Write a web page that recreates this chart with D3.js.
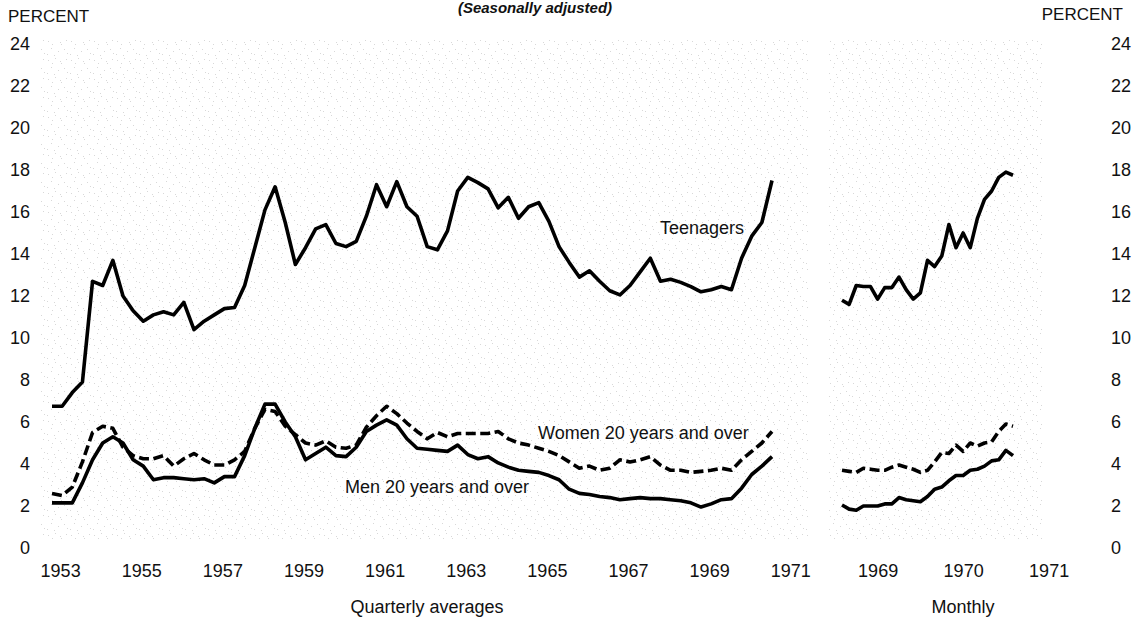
<!DOCTYPE html>
<html>
<head>
<meta charset="utf-8">
<script src="https://cdn.jsdelivr.net/npm/d3@7"></script>
<style>
  html, body { margin: 0; padding: 0; background: #fff; }
  svg { display: block; }
  text { font-family: "Liberation Sans", Arial, sans-serif; fill: #111; }
</style>
</head>
<body>
<svg id="chart" width="1141" height="621"></svg>
<script>
// ---------- DATA ----------
// Quarterly averages, 1953 Q1 .. 1970 Q4 (percent, seasonally adjusted)
const quarterStartYear = 1953;
const teenQuarterly = [
  6.75, 6.75, 7.4, 7.9, 12.7, 12.5, 13.7, 12.0,
  11.3, 10.8, 11.1, 11.25, 11.1, 11.7, 10.4, 10.8,
  11.1, 11.4, 11.45, 12.5, 14.3, 16.1, 17.2, 15.5,
  13.5, 14.3, 15.2, 15.4, 14.5, 14.35, 14.6, 15.8,
  17.3, 16.25, 17.45, 16.25, 15.8, 14.35, 14.2, 15.1,
  17.0, 17.65, 17.4, 17.1, 16.2, 16.7, 15.7, 16.25,
  16.45, 15.55, 14.35, 13.6, 12.9, 13.2, 12.7, 12.25,
  12.05, 12.5, 13.15, 13.8, 12.7, 12.8, 12.65, 12.45,
  12.2, 12.3, 12.45, 12.3, 13.8, 14.85, 15.5, 17.5
];
const womenQuarterly = [
  2.6, 2.5, 2.9, 4.1, 5.5, 5.8, 5.7, 4.8,
  4.4, 4.25, 4.25, 4.4, 3.9, 4.25, 4.5, 4.2,
  3.95, 3.95, 4.2, 4.6, 5.7, 6.6, 6.5, 5.8,
  5.4, 5.0, 4.9, 5.1, 4.8, 4.75, 4.9, 5.75,
  6.3, 6.75, 6.4, 5.95, 5.55, 5.2, 5.5, 5.3,
  5.45, 5.45, 5.45, 5.45, 5.55, 5.2, 5.0, 4.9,
  4.75, 4.6, 4.4, 4.1, 3.8, 3.9, 3.7, 3.8,
  4.2, 4.1, 4.2, 4.35, 3.95, 3.7, 3.7, 3.6,
  3.65, 3.7, 3.8, 3.7, 4.2, 4.6, 5.0, 5.55
];
const menQuarterly = [
  2.15, 2.15, 2.15, 3.1, 4.2, 5.0, 5.3, 5.0,
  4.2, 3.9, 3.25, 3.35, 3.35, 3.3, 3.25, 3.3,
  3.1, 3.4, 3.4, 4.4, 5.7, 6.85, 6.85, 6.0,
  5.3, 4.2, 4.5, 4.8, 4.4, 4.35, 4.8, 5.55,
  5.85, 6.1, 5.85, 5.2, 4.75, 4.7, 4.65, 4.6,
  4.9, 4.45, 4.25, 4.35, 4.05, 3.85, 3.7, 3.65,
  3.6, 3.45, 3.25, 2.8, 2.6, 2.55, 2.45, 2.4,
  2.3, 2.35, 2.4, 2.35, 2.35, 2.3, 2.25, 2.15,
  1.95, 2.1, 2.3, 2.35, 2.85, 3.5, 3.9, 4.35
];
// Monthly, Jan 1969 .. Jan 1971
const monthStartYear = 1969;
const teenMonthly = [
  11.8, 11.6, 12.5, 12.45, 12.45, 11.85, 12.4, 12.4, 12.9, 12.3,
  11.85, 12.15, 13.7, 13.4, 13.9, 15.4, 14.3, 15.0, 14.3, 15.7,
  16.6, 17.0, 17.65, 17.9, 17.75
];
const womenMonthly = [
  3.7, 3.65, 3.6, 3.8, 3.75, 3.7, 3.7, 3.85, 3.95, 3.85,
  3.75, 3.6, 3.7, 4.1, 4.55, 4.5, 4.9, 4.6, 5.0, 4.85,
  5.0, 5.05, 5.55, 5.9, 5.8
];
const menMonthly = [
  2.05, 1.85, 1.8, 2.0, 2.0, 2.0, 2.1, 2.1, 2.4, 2.3,
  2.25, 2.2, 2.45, 2.8, 2.9, 3.2, 3.45, 3.45, 3.7, 3.75,
  3.9, 4.15, 4.2, 4.65, 4.4
];
const yTicks = [0, 2, 4, 6, 8, 10, 12, 14, 16, 18, 20, 22, 24];
const leftYearTicks = [1953, 1955, 1957, 1959, 1961, 1963, 1965, 1967, 1969, 1971];
const rightYearTicks = [1969, 1970, 1971];
const title = "(Seasonally adjusted)";
const axisTitle = "PERCENT";
const seriesLabels = { teen: "Teenagers", women: "Women 20 years and over", men: "Men 20 years and over" };
const panelLabels = { left: "Quarterly averages", right: "Monthly" };

// ---------- SCALES ----------
const svg = d3.select("#chart");
const y = d3.scaleLinear().domain([0, 24]).range([548, 44]);
// quarters plotted at end of quarter, months at end of month
const qTime = i => quarterStartYear + (i + 1) / 4;
const mTime = i => monthStartYear + (i + 1) / 12;
const xL = d3.scaleLinear().domain([qTime(0), qTime(71)]).range([52, 772]);
const xR = d3.scaleLinear().domain([mTime(0), mTime(24)]).range([842, 1013]);

// ---------- BACKGROUND STIPPLE ----------
const defs = svg.append("defs");
const pat = defs.append("pattern").attr("id", "stip").attr("patternUnits", "userSpaceOnUse")
  .attr("width", 23).attr("height", 19);
const dots = [[2,3],[9,1],[15,6],[20,2],[5,10],[12,13],[18,11],[1,16],[8,17],[21,15],[14,4],[6,6]];
dots.forEach(d => pat.append("rect").attr("x", d[0]).attr("y", d[1]).attr("width", 1).attr("height", 1).attr("fill", "#b8b8b8"));
svg.append("rect").attr("x", 40).attr("y", 40).attr("width", 770).attr("height", 500)
  .attr("fill", "url(#stip)").attr("opacity", 0.55);
svg.append("rect").attr("x", 828).attr("y", 40).attr("width", 215).attr("height", 500)
  .attr("fill", "url(#stip)").attr("opacity", 0.55);

// ---------- TEXT ----------
svg.append("text").attr("x", 535).attr("y", 13).attr("text-anchor", "middle")
  .style("font-size", "15px").style("font-weight", "bold").style("font-style", "italic").text(title);
svg.append("text").attr("x", 8).attr("y", 22).style("font-size", "17px").text(axisTitle);
svg.append("text").attr("x", 1123).attr("y", 20).attr("text-anchor", "end").style("font-size", "17px").text(axisTitle);

// Y axes (labels only)
const yAxisL = d3.axisLeft(y).tickValues(yTicks).tickSize(0).tickPadding(0);
const gL = svg.append("g").attr("transform", "translate(30,0)").call(yAxisL);
const yAxisR = d3.axisRight(y).tickValues(yTicks).tickSize(0).tickPadding(0);
const gR = svg.append("g").attr("transform", "translate(1111,0)").call(yAxisR);
[gL, gR].forEach(g => {
  g.select(".domain").remove();
  g.selectAll("text").style("font-size", "18px").style("font-family", "Liberation Sans, Arial, sans-serif").attr("fill", "#111");
});

// X axes (labels only) - labels centred mid-year
const xAxisL = d3.axisBottom(d3.scaleLinear().domain(xL.domain().map(v => v - 0.45)).range(xL.range()))
  .tickValues(leftYearTicks).tickFormat(d3.format("d")).tickSize(0).tickPadding(0);
const gxL = svg.append("g").attr("transform", "translate(0,564)").call(xAxisL);
const xAxisR = d3.axisBottom(d3.scaleLinear().domain(xR.domain().map(v => v - 0.5)).range(xR.range()))
  .tickValues(rightYearTicks).tickFormat(d3.format("d")).tickSize(0).tickPadding(0);
const gxR = svg.append("g").attr("transform", "translate(0,564)").call(xAxisR);
[gxL, gxR].forEach(g => {
  g.select(".domain").remove();
  g.selectAll("text").style("font-size", "18px").style("font-family", "Liberation Sans, Arial, sans-serif").attr("fill", "#111");
});

svg.append("text").attr("x", 427).attr("y", 613).attr("text-anchor", "middle").style("font-size", "18px").text(panelLabels.left);
svg.append("text").attr("x", 963).attr("y", 613).attr("text-anchor", "middle").style("font-size", "18px").text(panelLabels.right);

// ---------- LINES ----------
const lineQ = d3.line().x((d, i) => xL(qTime(i))).y(d => y(d));
const lineM = d3.line().x((d, i) => xR(mTime(i))).y(d => y(d));
const lineStyle = (p, dashed) => p.attr("fill", "none").attr("stroke", "#000").attr("stroke-width", 3.6)
  .attr("stroke-linejoin", "round").attr("stroke-dasharray", dashed ? "10,4.5" : null);

lineStyle(svg.append("path").attr("d", lineQ(womenQuarterly)), true);
lineStyle(svg.append("path").attr("d", lineQ(menQuarterly)), false);
lineStyle(svg.append("path").attr("d", lineQ(teenQuarterly)), false);
lineStyle(svg.append("path").attr("d", lineM(womenMonthly)), true);
lineStyle(svg.append("path").attr("d", lineM(menMonthly)), false);
lineStyle(svg.append("path").attr("d", lineM(teenMonthly)), false);

// series labels
svg.append("text").attr("x", 660).attr("y", 234).style("font-size", "18px").text(seriesLabels.teen);
svg.append("text").attr("x", 538).attr("y", 439).style("font-size", "18px").text(seriesLabels.women);
svg.append("text").attr("x", 345).attr("y", 493).style("font-size", "18px").text(seriesLabels.men);
</script>
</body>
</html>
